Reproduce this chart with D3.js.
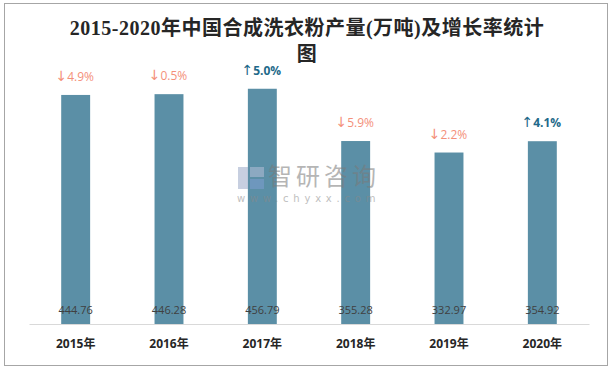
<!DOCTYPE html>
<html><head><meta charset="utf-8">
<script src="https://cdn.jsdelivr.net/npm/d3@7"></script>
<style>body{margin:0;background:#fff}svg{display:block}</style>
</head><body>
<script>
const years = ["2015年","2016年","2017年","2018年","2019年","2020年"];
const output = [444.76, 446.28, 456.79, 355.28, 332.97, 354.92];
const growth = [-4.9, -0.5, 5.0, -5.9, -2.2, 4.1];
const title1 = "2015-2020年中国合成洗衣粉产量(万吨)及增长率统计";
const title2 = "图";

const W = 614, H = 369;
const svg = d3.select("body").append("svg").attr("width", W).attr("height", H);
svg.append("rect").attr("x",4.5).attr("y",3.5).attr("width",603).attr("height",362)
  .attr("fill","#fff").attr("stroke","#a6a6a6").attr("stroke-width",1);

const x = d3.scaleBand().domain(years).range([29, 589]).paddingInner(0.69).paddingOuter(0.345);
const y = d3.scaleLinear().domain([0, 500]).range([324, 66.5]);

const tf = "'Liberation Serif','Noto Sans CJK SC',serif";
[title1, title2].forEach((t, k) => {
  svg.append("text").attr("x",307).attr("y",35 + k*26).attr("text-anchor","middle")
    .attr("font-family",tf).attr("font-size",20).attr("font-weight","bold")
    .attr("letter-spacing",0.5).attr("fill","#262626").text(t);
});

// bars
svg.append("g").selectAll("rect").data(years).join("rect")
  .attr("x", d => x(d)).attr("width", x.bandwidth())
  .attr("y", (d,i) => y(output[i])).attr("height", (d,i) => y(0) - y(output[i]))
  .attr("fill", "#5b8fa6");

// axis
const ax = svg.append("g").attr("transform", `translate(0,${y(0)})`)
  .call(d3.axisBottom(x).tickSize(0).tickPadding(15));
ax.select(".domain").attr("stroke","#d9d9d9");
ax.selectAll("text").attr("font-family","'Open Sans','Noto Sans CJK SC',sans-serif")
  .attr("font-size",12).attr("font-weight","bold").attr("fill","#262626");

// value labels
svg.append("g").selectAll("text").data(years).join("text")
  .attr("x", d => x(d) + x.bandwidth()/2).attr("y", y(0) - 10)
  .attr("text-anchor","middle").attr("font-family","'Open Sans',sans-serif").attr("font-size",11)
  .attr("fill","#404040").text((d,i) => output[i].toFixed(2));

// growth labels
const gl = svg.append("g").selectAll("text").data(years).join("text")
  .attr("x", d => x(d) + x.bandwidth()/2 - 1).attr("y", (d,i) => y(output[i]) - 14)
  .attr("text-anchor","middle").attr("font-family","'Open Sans',sans-serif").attr("font-size",12)
  .attr("font-weight", (d,i) => growth[i] > 0 ? "bold" : "normal")
  .attr("fill", (d,i) => growth[i] > 0 ? "#1f6a8a" : "#f4907a");
gl.append("tspan").attr("font-family","'DejaVu Sans',sans-serif").attr("font-size",14)
  .attr("font-weight","normal")
  .text((d,i) => growth[i] > 0 ? "↑" : "↓");
gl.append("tspan").text((d,i) => Math.abs(growth[i]).toFixed(1) + "%");

// watermark
const wm = svg.append("g").attr("opacity",0.55);
wm.append("rect").attr("x",238).attr("y",167).attr("width",10).attr("height",22).attr("fill","#9aa8c8");
wm.append("rect").attr("x",250).attr("y",167).attr("width",14).attr("height",10).attr("fill","#b5c0d8");
wm.append("rect").attr("x",250).attr("y",179).attr("width",14).attr("height",10).attr("fill","#7f9fd0");
wm.append("text").attr("x",268).attr("y",185).attr("font-family","'Noto Sans CJK SC',sans-serif")
  .attr("font-size",24).attr("letter-spacing",4).attr("fill","#7a7a7a").text("智研咨询");
wm.append("text").attr("x",237).attr("y",202).attr("font-family","'DejaVu Sans',sans-serif")
  .attr("font-size",10).attr("letter-spacing",4.8).attr("fill","#8a8a8a").text("www.chyxx.com");
</script>
</body></html>
